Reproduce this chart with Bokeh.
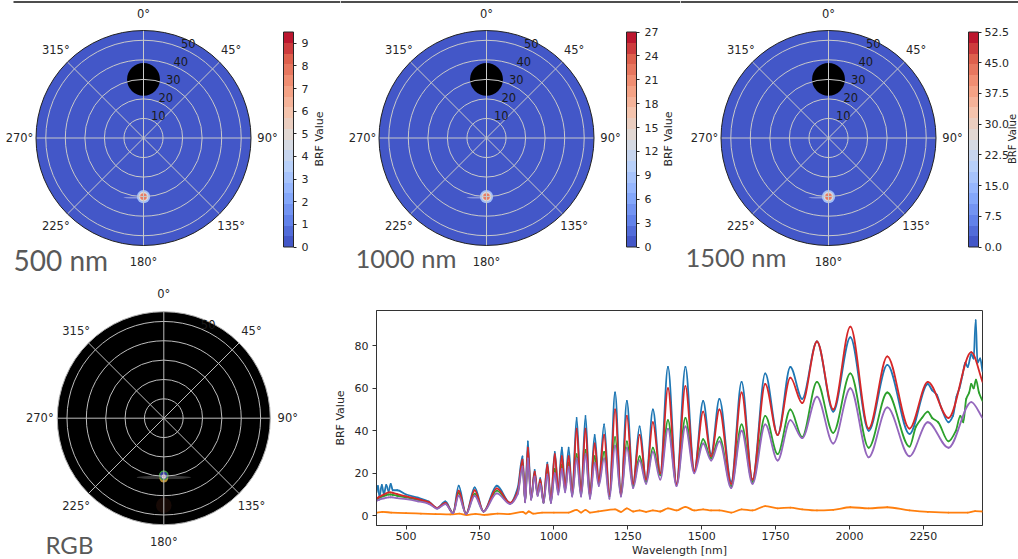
import numpy as np
from bokeh.plotting import figure
from bokeh.layouts import row, column
from bokeh.models import (Range1d, ColorBar, LinearColorMapper, FixedTicker,
                          PrintfTickFormatter, ColumnDataSource)
from bokeh.transform import transform
from bokeh.core.properties import value
from bokeh.embed import file_html
from bokeh.resources import INLINE

# ---------------- data ----------------
band_labels = ["500 nm", "1000 nm", "1500 nm"]
band_cmax = [9.5, 27.0, 52.5]
band_ticks = [[0, 1, 2, 3, 4, 5, 6, 7, 8, 9],
              [0, 3, 6, 9, 12, 15, 18, 21, 24, 27],
              [0.0, 7.5, 15.0, 22.5, 30.0, 37.5, 45.0, 52.5]]
band_tick_fmt = ["%d", "%d", "%.1f"]
zenith_rings = [10, 20, 30, 40, 50]
zenith_max = 55
azimuth_ticks = [0, 45, 90, 135, 180, 225, 270, 315]
sun_azimuth, sun_zenith, sun_size = 0, 30, 8.4
hot_azimuth, hot_zenith = 180, 30
hot_values = [[3.0, 5.2, 8.0], [8.5, 14.5, 22.5], [16.5, 28.0, 44.0]]
background_brf = [0.0, 0.0, 0.0]

wavelength = [400, 405, 410, 418, 425, 433, 441, 448, 455, 470, 500, 540, 577, 605, 633, 659,
              678, 703, 732, 762, 807, 852, 878, 894, 903, 912, 923, 935, 945, 954, 965, 978,
              990, 1003, 1015, 1027, 1038, 1050, 1062, 1077, 1092, 1107, 1122, 1138, 1152, 1170,
              1188, 1207, 1227, 1247, 1268, 1290, 1312, 1335, 1360, 1386, 1415, 1445, 1475, 1505,
              1532, 1560, 1600, 1635, 1672, 1715, 1757, 1800, 1840, 1890, 1945, 2003, 2065, 2128,
              2203, 2265, 2335, 2412, 2450]
brf_blue = [11, 14, 9, 14.5, 10, 14.5, 11.5, 15, 12, 12, 10, 8.5, 6.7, 3.6, 6.7, 1.2,
            14.1, 0.8, 13.3, 2.0, 14.1, 6, 13.3, 27.9, 6.7, 35, 7.9, 21.6, 10, 17.7, 6.5, 25,
            6.5, 30, 12, 32, 13, 32, 10, 46, 10, 47, 9, 38, 16, 43,
            10, 58, 10, 54, 15, 42, 17, 50, 20, 70, 15, 70, 21, 54,
            29, 55, 16, 63, 17, 67, 38, 70, 55, 82, 49, 84, 40, 71,
            38.5, 62, 44, 76, 68]
brf_red = [8, 8.5, 9, 9.5, 10, 10.5, 11, 11, 10.8, 10.2, 9.1, 7.8, 6.4, 3.6, 6, 1.2,
           11.8, 0.8, 12, 2.0, 12.9, 6, 11.7, 26.4, 6.7, 32, 7.9, 20.8, 10, 17, 6.5, 24,
           6.5, 29, 12, 28, 13, 28, 10, 41, 10, 41, 9, 34, 16, 38,
           10, 50, 10, 47, 15, 38, 17, 44, 20, 60, 15, 61, 21, 49,
           28, 50, 15, 58, 17, 62, 38, 65, 53, 82, 50, 89, 41, 75,
           41, 63, 46, 77, 63]
brf_green = [7.5, 8, 8.5, 9, 9.3, 9.7, 10, 10, 9.8, 9.4, 8.6, 7.5, 6.1, 3.5, 5.8, 1.2,
             10.7, 0.8, 10.4, 2.0, 11.8, 5.8, 11, 24.5, 6.5, 29, 7.7, 19.5, 9.7, 16, 6.2, 21,
             6.2, 22, 11, 24, 12, 25, 9.5, 29, 9.5, 31, 9, 28, 15, 30,
             9, 37, 9.5, 35, 14, 28, 16, 32, 19, 45, 14.5, 46, 21, 36,
             27, 37, 14, 43, 16, 47, 29, 50, 37, 63, 39, 67, 32, 58,
             32.5, 49, 35, 62, 54]
brf_purple = [7, 7.3, 7.6, 8, 8.2, 8.5, 8.6, 8.7, 8.6, 8.3, 7.8, 6.8, 5.6, 3.3, 5.5, 1.2,
              9.4, 0.8, 9.4, 2.0, 10.5, 5.5, 10.3, 23.2, 6.3, 27, 7.5, 18.5, 9.3, 15, 6, 19.5,
              6, 20, 10, 22, 11, 23, 9, 27, 9, 29, 8, 25, 14, 27,
              8, 33, 9, 32, 13, 26, 15, 30, 17, 41, 14, 42, 20, 34,
              26, 35, 13, 40, 15, 43, 26, 45, 36.5, 56, 34, 60, 27.5, 51,
              28, 44, 32, 53.5, 46]
blue_extra_wl = [2280, 2295, 2310, 2350, 2362, 2372, 2382, 2392, 2400, 2420, 2427, 2433, 2442]
blue_extra_val = [59, 57, 51, 47, 56, 60, 66, 72, 70, 74, 92, 72, 74]
green_extra_wl = [2225, 2245, 2280, 2300, 2360, 2375, 2385, 2395, 2405, 2420, 2428, 2438]
green_extra_val = [42, 46, 46, 44, 40, 47, 44, 55, 58, 60, 64, 58]
orange_wl = [400, 420, 450, 500, 550, 600, 650, 680, 705, 735, 765, 810, 850, 895, 905, 915,
             930, 960, 1000, 1050, 1077, 1092, 1107, 1122, 1150, 1207, 1227, 1247, 1268, 1290,
             1312, 1335, 1360, 1386, 1415, 1445, 1475, 1505, 1532, 1560, 1600, 1635, 1672, 1715,
             1757, 1800, 1840, 1890, 1945, 2003, 2065, 2128, 2203, 2265, 2335, 2400, 2425, 2450]
orange_val = [1.5, 1.8, 1.5, 1.2, 1.0, 0.8, 0.6, 1.0, 0.3, 0.9, 0.4, 1.0, 0.8, 1.8, 1.0, 2.0,
              1.0, 1.5, 1.5, 1.5, 2.8, 1.5, 2.8, 1.5, 2.0, 3.0, 1.8, 3.5, 2.0, 2.5,
              1.8, 2.5, 2.0, 3.5, 2.5, 4.2, 2.5, 3.0, 2.5, 2.5, 1.5, 3.0, 2.5, 4.5,
              3.5, 3.8, 3.0, 2.5, 2.8, 4.0, 3.5, 4.0, 2.5, 1.8, 1.5, 1.5, 2.2, 2.0]
x_ticks = [500, 750, 1000, 1250, 1500, 1750, 2000, 2250]
y_ticks = [0, 20, 40, 60, 80]

# ---------------- style ----------------
FONT = "DejaVu Sans"
TXT = "#262626"
_cw = [(0.0, (59, 76, 192)), (0.125, (98, 130, 234)), (0.25, (141, 176, 254)),
       (0.375, (184, 208, 249)), (0.5, (221, 221, 221)), (0.625, (245, 196, 173)),
       (0.75, (244, 154, 123)), (0.875, (222, 96, 77)), (1.0, (180, 4, 38))]


def coolwarm(t):
    for (t0, c0), (t1, c1) in zip(_cw[:-1], _cw[1:]):
        if t0 <= t <= t1:
            f = (t - t0) / (t1 - t0)
            return "#%02x%02x%02x" % tuple(int(round(a + (b - a) * f)) for a, b in zip(c0, c1))
    return "#b40426"


palette = [coolwarm((i + 0.5) / 20) for i in range(20)]


def no_align(p):
    try:
        p.frame_align = False
    except Exception:
        pass


def pol(theta, r):
    t = np.radians(np.asarray(theta, float))
    return np.asarray(r, float) * np.sin(t), np.asarray(r, float) * np.cos(t)


def polar_frame(W, H, cx, cy, R_px):
    s = R_px / zenith_max
    p = figure(width=W, height=H, frame_width=W, frame_height=H, title=None,
               x_range=Range1d(-cx / s, (W - cx) / s),
               y_range=Range1d(-(H - cy) / s, cy / s), output_backend="svg",
               toolbar_location=None, x_axis_location=None, y_axis_location=None,
               min_border=0)
    p.grid.visible = False
    p.outline_line_color = None
    no_align(p)
    return p, s


def polar_grid(p, s, grid_color, edge_color):
    n = len(zenith_rings)
    p.circle(x=[0] * n, y=[0] * n, radius=zenith_rings, fill_color=None,
             line_color=grid_color, line_width=1)
    ex, ey = pol(azimuth_ticks, [zenith_max] * len(azimuth_ticks))
    p.segment(x0=[0] * len(ex), y0=[0] * len(ex), x1=ex, y1=ey,
              line_color=grid_color, line_width=1)
    p.circle(x=[0], y=[0], radius=[zenith_max], fill_color=None,
             line_color=edge_color, line_width=1)
    lx, ly = pol(azimuth_ticks, [124 / s] * len(azimuth_ticks))
    p.text(x=lx, y=ly, text=["%d°" % a for a in azimuth_ticks], text_font=value(FONT),
           text_font_size="11.5px", text_color=TXT, text_align="center",
           text_baseline="middle")


def radial_labels(p, rings):
    rx, ry = pol([22.5] * len(rings), rings)
    p.text(x=rx, y=ry, text=[str(r) for r in rings], text_font=value(FONT),
           text_font_size="11.5px", text_color="#1a1a1a", text_align="left",
           text_baseline="bottom")


TOP_H = 286
top_x0 = [0, 340, 680]
top_w = [340, 340, 338]
top_cx = [143, 146, 148]
top_cy = 137.5
R_TOP = 107.5
band_text_pos = [(-130, 121.5), (-131, 119.5), (-143, 119.0)]
band_text_size = ["28px", "25.5px", "25.5px"]
cbar_label_dx = [176, 182, 183.5]
cbar_label_size = ["11px", "11px", "10px"]
cbar_standoff = [5, 5, 3]

top_figs = []
for i in range(3):
    W, cx = top_w[i], top_cx[i]
    p, s = polar_frame(W, TOP_H, cx, top_cy, R_TOP)
    # thin dark rule along the top edge
    x_from = max(13 - top_x0[i], 0)
    p.segment(x0=[(x_from - cx) / s], y0=[(top_cy - 1.5) / s], x1=[(W - cx) / s],
              y1=[(top_cy - 1.5) / s], line_color="#4d4d4d", line_width=2)
    mapper = LinearColorMapper(palette=palette, low=0, high=band_cmax[i])
    p.circle(x='x', y='y', radius='r', fill_color=transform('v', mapper), line_color=None,
             source=ColumnDataSource(dict(x=[0], y=[0], r=[zenith_max], v=[background_brf[i]])))
    hx, hy = pol(hot_azimuth, hot_zenith)
    p.ellipse(x=[hx - 4.8], y=[hy - 0.5], width=[11], height=[0.9], fill_color="#dfe3f2",
              fill_alpha=0.45, line_color=None)
    p.circle(x='x', y='y', radius='r', fill_color=transform('v', mapper), line_color=None,
             fill_alpha=0.95,
             source=ColumnDataSource(dict(x=[hx] * 3, y=[hy] * 3, r=[3.4, 2.5, 1.7],
                                          v=hot_values[i])))
    sx, sy = pol(sun_azimuth, sun_zenith)
    p.circle(x=[sx], y=[sy], radius=[sun_size], fill_color="black", line_color=None)
    polar_grid(p, s, "#c9c9c9", "#222222")
    radial_labels(p, zenith_rings)
    dx, dy = band_text_pos[i]
    p.text(x=[dx / s], y=[-dy / s], text=[band_labels[i]], text_font=value("Lato"),
           text_font_size=band_text_size[i], text_color="#595959", text_align="left",
           text_baseline="middle")
    cb = ColorBar(color_mapper=mapper, ticker=FixedTicker(ticks=band_ticks[i]),
                  formatter=PrintfTickFormatter(format=band_tick_fmt[i]),
                  width=10, height=215, location=(cx + 140, TOP_H - 246.5),
                  padding=0, margin=0, major_tick_in=0, major_tick_out=3,
                  major_tick_line_color=TXT, bar_line_color=TXT,
                  label_standoff=cbar_standoff[i],
                  major_label_text_font=FONT, major_label_text_font_size="11px",
                  major_label_text_color=TXT, background_fill_alpha=0,
                  border_line_color=None, minor_tick_line_color=None)
    p.add_layout(cb)
    p.text(x=[cbar_label_dx[i] / s], y=[-1 / s], text=["BRF Value"], angle=np.pi / 2,
           text_font=value(FONT), text_font_size=cbar_label_size[i], text_color=TXT,
           text_align="center", text_baseline="middle")
    top_figs.append(p)

# ---------------- RGB polar ----------------
BOT_H = 559 - TOP_H
RGB_CX, RGB_CY = 163.3, 417.7 - TOP_H
rgb, s = polar_frame(330, BOT_H, RGB_CX, RGB_CY, 106.5)
rgb.circle(x=[0], y=[0], radius=[zenith_max], fill_color="black", line_color=None)
hx, hy = pol(hot_azimuth, hot_zenith)
gx, gy = pol(hot_azimuth, 45)
rgb.circle(x=[gx], y=[gy], radius=[4], fill_color="#3a1a10", fill_alpha=0.4, line_color=None)
rgb.ellipse(x=[hx], y=[hy - 0.6], width=[28], height=[1.8], fill_color="#9a9a9a",
            fill_alpha=0.35, line_color=None)
rgb.circle(x=[hx], y=[hy - 1.0], radius=[2.2], fill_color="#e0b040", fill_alpha=0.8,
           line_color=None)
rgb.circle(x=[hx], y=[hy + 0.5], radius=[2.2], fill_color="#4048c0", fill_alpha=0.8,
           line_color="#40a040", line_width=1.2)
rgb.circle(x=[hx], y=[hy - 0.2], radius=[1.1], fill_color="#f2d8e6", line_color=None)
polar_grid(rgb, s, "#bdbdbd", "#b0b0b0")
radial_labels(rgb, [50])
rgb.text(x=[-118.3 / s], y=[-126.5 / s], text=["RGB"], text_font=value("Lato"),
         text_font_size="24px", text_color="#595959", text_align="left",
         text_baseline="middle")

# ---------------- spectra ----------------
def smooth_src(xs, ys):
    xs = np.asarray(xs, float)
    ys = np.asarray(ys, float)
    o = np.argsort(xs, kind="stable")
    xs, ys = xs[o], ys[o]
    h = np.diff(xs)
    d = np.diff(ys) / h
    m = np.zeros_like(ys)
    m[0], m[-1] = d[0], d[-1]
    for k in range(1, len(xs) - 1):
        if d[k - 1] * d[k] > 0:
            h0, h1 = h[k - 1], h[k]
            m[k] = 3 * (h0 + h1) / ((2 * h1 + h0) / d[k - 1] + (h1 + 2 * h0) / d[k])
    return ColumnDataSource(dict(x0=xs[:-1], y0=ys[:-1], x1=xs[1:], y1=ys[1:],
                                 cx0=xs[:-1] + h / 3, cy0=ys[:-1] + m[:-1] * h / 3,
                                 cx1=xs[1:] - h / 3, cy1=ys[1:] - m[1:] * h / 3))


Y0, Y1 = -4.6, 96.6
line = figure(width=688, height=BOT_H, x_range=Range1d(400, 2450), y_range=Range1d(Y0, Y1),
              output_backend="svg", toolbar_location=None, title=None,
              min_border_left=44, min_border_right=36, min_border_top=310 - TOP_H,
              min_border_bottom=34)
no_align(line)
line.grid.visible = False
line.outline_line_color = "#333333"
series = [
    (list(wavelength) + blue_extra_wl, list(brf_blue) + blue_extra_val, "#1f77b4"),
    (orange_wl, orange_val, "#ff7f0e"),
    (list(wavelength) + green_extra_wl, list(brf_green) + green_extra_val, "#2ca02c"),
    (wavelength, brf_red, "#d62728"),
    (wavelength, brf_purple, "#9467bd"),
]
for xs, ys, c in series:
    line.bezier(x0='x0', y0='y0', x1='x1', y1='y1', cx0='cx0', cy0='cy0', cx1='cx1',
                cy1='cy1', source=smooth_src(xs, ys), line_color=c, line_width=1.8,
                line_cap="round")
for ax in (line.xaxis, line.yaxis):
    ax.axis_line_color = "#333333"
    ax.major_tick_line_color = "#333333"
    ax.major_tick_in = 0
    ax.major_tick_out = 4
    ax.minor_tick_line_color = None
    ax.major_label_text_font = FONT
    ax.major_label_text_font_size = "11px"
    ax.major_label_text_color = TXT
    ax.axis_label_text_font = FONT
    ax.axis_label_text_font_size = "11px"
    ax.axis_label_text_font_style = "normal"
    ax.axis_label_text_color = TXT
line.xaxis.ticker = FixedTicker(ticks=x_ticks)
line.yaxis.ticker = FixedTicker(ticks=y_ticks)
line.xaxis.major_label_standoff = 2
line.yaxis.major_label_standoff = 4
line.yaxis.axis_label = "BRF Value"
line.yaxis.axis_label_standoff = 5
line.xaxis.axis_label = "Wavelength [nm]"
line.xaxis.axis_label_standoff = 1

layout = column(row(*top_figs), row(rgb, line))
open("out.html", "w").write(file_html(layout, INLINE))
